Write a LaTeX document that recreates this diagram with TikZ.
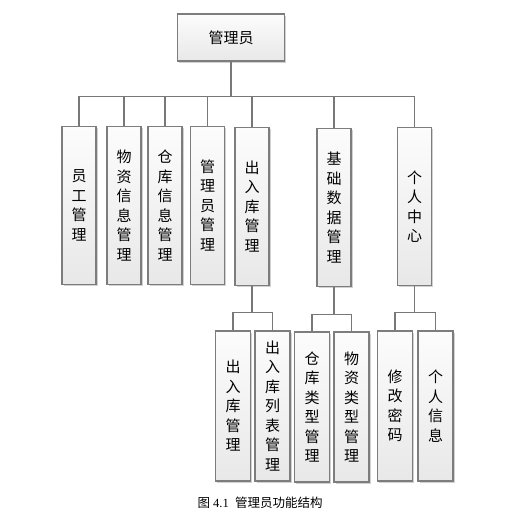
\documentclass[tikz,border=0pt]{standalone}
\usepackage{fontspec}
\setmainfont{Liberation Serif}
\newfontfamily\cjk{Noto Sans CJK SC}
\usetikzlibrary{shadows}
\definecolor{BoxLineClr}{RGB}{125,125,125}
\definecolor{LinkClr}{RGB}{120,120,120}
\definecolor{BoxTopClr}{RGB}{252,252,252}
\definecolor{BoxBotClr}{RGB}{232,232,232}

\tikzset{
  unitbox/.style={draw=BoxLineClr,line width=1.3pt,top color=BoxTopClr,bottom color=BoxBotClr,
    drop shadow={shadow xshift=1.8pt,shadow yshift=-1.8pt,fill=black!30,opacity=0.6},
    inner sep=0pt,align=center,font=\cjk\fontsize{15}{19.5}\selectfont},
  topbox/.style={unitbox,minimum width=107pt,minimum height=47pt},
  mainbox/.style={unitbox,minimum width=34pt,minimum height=158pt},
  subbox/.style={unitbox,minimum width=35pt,minimum height=150pt},
  link/.style={draw=LinkClr,line width=1.3pt}
}

\begin{document}
\begin{tikzpicture}[x=1pt,y=-1pt]
\useasboundingbox (0,0) rectangle (504,520);

\node[topbox] (admin) at (231,37.5) {管理员};

\node[mainbox] (staff)  at (79,205.5)  {员\\工\\管\\理};
\node[mainbox] (goods)  at (124,205.5) {物\\资\\信\\息\\管\\理};
\node[mainbox] (store)  at (165,205.5) {仓\\库\\信\\息\\管\\理};
\node[mainbox] (adminm) at (207.5,205.5) {管\\理\\员\\管\\理};
\node[mainbox] (inout)  at (252,206.5) {出\\入\\库\\管\\理};
\node[mainbox] (basic)  at (334,207.5) {基\\础\\数\\据\\管\\理};
\node[mainbox] (center) at (414.5,206.5) {个\\人\\中\\心};

\node[subbox] (inoutm) at (233,406)   {出\\入\\库\\管\\理};
\node[subbox] (inoutl) at (272.5,406) {出\\入\\库\\列\\表\\管\\理};
\node[subbox] (stype)  at (312,407)   {仓\\库\\类\\型\\管\\理};
\node[subbox] (gtype)  at (351.5,407) {物\\资\\类\\型\\管\\理};
\node[subbox] (passwd) at (395,406)   {修\\改\\密\\码};
\node[subbox] (info)   at (435.5,406) {个\\人\\信\\息};

% first level
\draw[link] (admin.south) -- ++(0,34.5) -| (staff.north);
\draw[link] (admin.south) -- ++(0,34.5) -| (goods.north);
\draw[link] (admin.south) -- ++(0,34.5) -| (store.north);
\draw[link] (admin.south) -- ++(0,34.5) -| (adminm.north);
\draw[link] (admin.south) -- ++(0,34.5) -| (inout.north);
\draw[link] (admin.south) -- ++(0,34.5) -| (basic.north);
\draw[link] (admin.south) -- ++(0,34.5) -| (center.north);

% second level
\draw[link] (inout.south) -- ++(0,26.5) -| (inoutm.north);
\draw[link] (inout.south) -- ++(0,26.5) -| (inoutl.north);
\draw[link] (basic.south) -- ++(0,27.5) -| (stype.north);
\draw[link] (basic.south) -- ++(0,27.5) -| (gtype.north);
\draw[link] (center.south) -- ++(0,26) -| (passwd.north);
\draw[link] (center.south) -- ++(0,26) -| (info.north);

\node[font=\fontsize{12.5}{14}\selectfont] (caption) at (260,503) {{\cjk 图}~4.1~~{\cjk 管理员功能结构}};

\end{tikzpicture}
\end{document}
